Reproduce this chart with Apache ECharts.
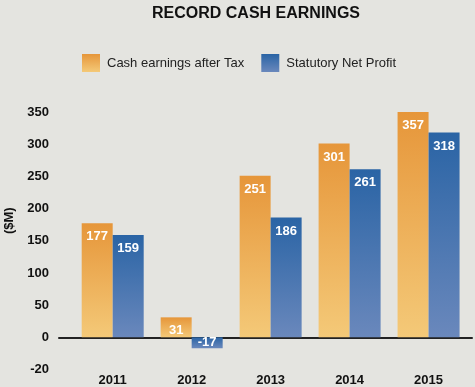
<!DOCTYPE html>
<html>
<head>
<meta charset="utf-8">
<script src="https://cdn.jsdelivr.net/npm/echarts@6/dist/echarts.min.js"></script>
<style>
html,body{margin:0;padding:0;background:#E4E4E0;}
#c{width:475px;height:387px;}
</style>
</head>
<body>
<div id="c"></div>
<script>
var years = ['2011', '2012', '2013', '2014', '2015'];
var cashEarnings = [177, 31, 251, 301, 357];
var netProfit = [159, -17, 186, 261, 318];
var yTicks = [-50, 0, 50, 100, 150, 200, 250, 300, 350];
var yTickLabels = ['-20', '0', '50', '100', '150', '200', '250', '300', '350'];

var FONT = '"Liberation Sans", Arial, sans-serif';
var chart = echarts.init(document.getElementById('c'));

function grad(top, bottom) {
  return new echarts.graphic.LinearGradient(0, 0, 0, 1, [
    {offset: 0, color: top}, {offset: 1, color: bottom}
  ]);
}
var orange = grad('#E6963A', '#F4C978');
var blue = grad('#2A64A5', '#6A88BC');

function pairs(arr) {
  return arr.map(function (v, i) {
    if (v < 0) {
      return {value: [i, v], label: {position: 'inside'}};
    }
    return {value: [i, v]};
  });
}

var labelStyle = {
  show: true,
  position: 'insideTop',
  distance: 7,
  color: '#ffffff',
  fontFamily: FONT,
  fontWeight: 'bold',
  fontSize: 13
};

chart.setOption({
  backgroundColor: '#E4E4E0',
  animation: false,
  title: {
    text: 'RECORD CASH EARNINGS',
    left: 147,
    top: 1,
    textStyle: {fontFamily: FONT, fontWeight: 'bold', fontSize: 16, color: '#111'}
  },
  legend: {
    left: 77,
    top: 49,
    icon: 'rect',
    itemWidth: 18,
    itemHeight: 18,
    itemGap: 17,
    textStyle: {fontFamily: FONT, fontSize: 13, color: '#222', padding: [8, 0, 0, 2]},
    data: ['Cash earnings after Tax', 'Statutory Net Profit']
  },
  grid: {left: 59, right: 3, top: 112, bottom: 17.5, outerBoundsMode: 'none'},
  xAxis: {
    type: 'value',
    min: -0.68,
    max: 4.55,
    splitLine: {show: false},
    axisTick: {show: false},
    axisLine: {show: true, onZero: true, lineStyle: {color: '#222', width: 2}},
    axisLabel: {
      customValues: [0, 1, 2, 3, 4],
      margin: 4,
      fontFamily: FONT,
      fontWeight: 'bold',
      fontSize: 13,
      color: '#111',
      formatter: function (v) { return years[Math.round(v)]; }
    }
  },
  yAxis: {
    type: 'value',
    min: -50,
    max: 350,
    interval: 50,
    name: '($M)',
    nameLocation: 'middle',
    nameGap: 41,
    nameTextStyle: {fontFamily: FONT, fontWeight: 'bold', fontSize: 13, color: '#111', padding: [0, 0, 0, 40]},
    axisLine: {show: false},
    axisTick: {show: false},
    splitLine: {show: false},
    axisLabel: {
      margin: 10,
      fontFamily: FONT,
      fontWeight: 'bold',
      fontSize: 13,
      color: '#111',
      formatter: function (v) { return yTickLabels[yTicks.indexOf(v)]; }
    }
  },
  series: [
    {
      name: 'Cash earnings after Tax',
      type: 'bar',
      barWidth: 31,
      barGap: '0%',
      itemStyle: {color: orange},
      label: labelStyle,
      data: pairs(cashEarnings)
    },
    {
      name: 'Statutory Net Profit',
      type: 'bar',
      barWidth: 31,
      barGap: '0%',
      itemStyle: {color: blue},
      label: labelStyle,
      data: pairs(netProfit)
    }
  ]
});
</script>
</body>
</html>
